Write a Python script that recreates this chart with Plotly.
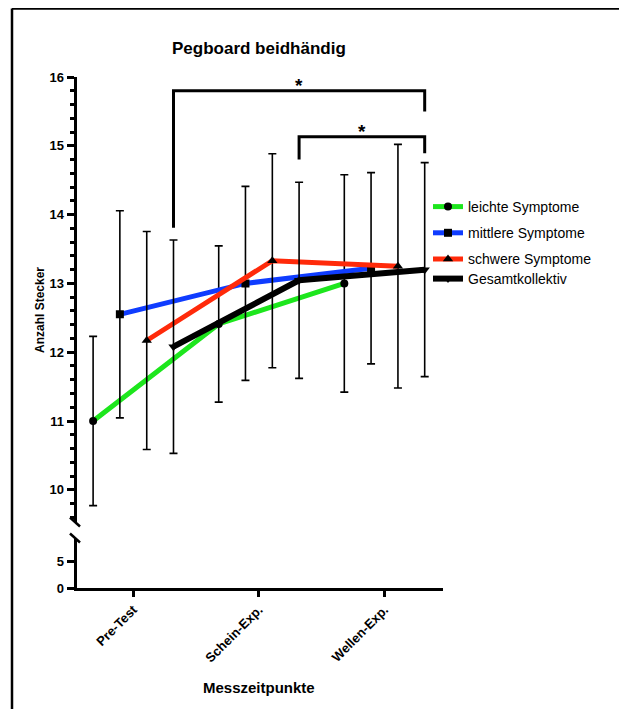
import plotly.graph_objects as go

# ---------------- data ----------------
categories = ["Pre-Test", "Schein-Exp.", "Wellen-Exp."]
series_names = ["leichte Symptome", "mittlere Symptome", "schwere Symptome", "Gesamtkollektiv"]

leicht_mean = [11.00, 12.41, 13.00]
leicht_sd = [1.23, 1.135, 1.58]
mittel_mean = [12.55, 13.00, 13.22]
mittel_sd = [1.505, 1.41, 1.39]
schwer_mean = [12.17, 13.33, 13.25]
schwer_sd = [1.585, 1.555, 1.77]
gesamt_mean = [12.08, 13.045, 13.20]
gesamt_sd = [1.55, 1.425, 1.555]

upper_ticks = [10, 11, 12, 13, 14, 15, 16]
lower_ticks = [0, 5]

# significance brackets: (from category, to category, bar height, left leg end, right leg end)
sig_from = [0, 1]
sig_to = [2, 2]
sig_bar = [15.80, 15.13]
sig_left_end = [13.81, 14.80]
sig_right_end = [15.50, 14.89]
sig_label = ["*", "*"]

# ---------------- layout helpers ----------------
PAGE_W, PAGE_H = 627, 717
OFF = 8  # default body margin of the html page
W, H = PAGE_W - OFF, PAGE_H - 2 * OFF
def px(x):
    return (x - OFF) / W
def py(y):
    return 1 - (y - OFF) / H

FONT = "Liberation Sans, Arial, Helvetica, sans-serif"
colors = ["#1de61d", "#0f3cff", "#ff2a0a", "#000000"]
symbols = ["circle", "square", "triangle-up", "triangle-down"]
msizes = [8, 8, 9, 9]
lwidths = [5, 5, 5, 6]
dodge = [-0.32, -0.107, 0.107, 0.32]
means = [leicht_mean, mittel_mean, schwer_mean, gesamt_mean]
sds = [leicht_sd, mittel_sd, schwer_sd, gesamt_sd]
legends = ["legend", "legend", "legend", "legend2"]

fig = go.Figure()
for i, name in enumerate(series_names):
    xs = [c + dodge[i] for c in range(len(categories))]
    fig.add_trace(go.Scatter(
        x=xs, y=means[i], name=name, mode="lines+markers",
        line=dict(color=colors[i], width=lwidths[i]),
        marker=dict(symbol=symbols[i], size=msizes[i], color="black"),
        error_y=dict(type="data", array=sds[i], visible=True, color="black",
                     thickness=1.6, width=4),
        xaxis="x", yaxis="y", legend=legends[i], legendgroup=name,
    ))

# dummy trace for the lower (broken) axis segment
fig.add_trace(go.Scatter(x=[None], y=[None], xaxis="x", yaxis="y2",
                         showlegend=False, hoverinfo="skip"))

# significance brackets
def catx(c):
    return c + dodge[3]
shapes = []
annotations = []
for k in range(len(sig_bar)):
    x0, x1 = catx(sig_from[k]), catx(sig_to[k])
    shapes.append(dict(type="path", xref="x", yref="y",
                       path=f"M {x0},{sig_left_end[k]} L {x0},{sig_bar[k]} L {x1},{sig_bar[k]} L {x1},{sig_right_end[k]}",
                       line=dict(color="black", width=3)))
    annotations.append(dict(x=(x0 + x1) / 2, y=sig_bar[k], xref="x", yref="y",
                            text=f"<b>{sig_label[k]}</b>", showarrow=False,
                            yanchor="bottom", yshift=-7,
                            font=dict(family=FONT, size=19, color="black")))

# page frame (left and top)
shapes.append(dict(type="line", xref="paper", yref="paper", x0=px(12), x1=px(12),
                   y0=py(8.5), y1=-0.05, line=dict(color="black", width=2.5)))
shapes.append(dict(type="line", xref="paper", yref="paper", x0=px(12), x1=1.05,
                   y0=py(8.5), y1=py(8.5), line=dict(color="black", width=2.5)))
# axis break marks
for yb in (522, 538):
    shapes.append(dict(type="line", xref="paper", yref="paper",
                       x0=px(70), x1=px(80), y0=py(yb - 4.5), y1=py(yb + 4.5),
                       line=dict(color="black", width=2.5)))

# titles
annotations.append(dict(x=px(259), y=py(48), xref="paper", yref="paper",
                        text="<b>Pegboard beidhändig</b>", showarrow=False,
                        xanchor="center", yanchor="middle",
                        font=dict(family=FONT, size=17, color="black")))
annotations.append(dict(x=px(40), y=py(310), xref="paper", yref="paper",
                        text="<b>Anzahl Stecker</b>", showarrow=False, textangle=-90,
                        xanchor="center", yanchor="middle",
                        font=dict(family=FONT, size=12, color="black")))
annotations.append(dict(x=px(258.5), y=py(687), xref="paper", yref="paper",
                        text="<b>Messzeitpunkte</b>", showarrow=False,
                        xanchor="center", yanchor="middle",
                        font=dict(family=FONT, size=15, color="black")))

# axis geometry (reference pixel positions)
xl, xr = 76.5, 442.7
c0, cstep = 133.3, 125.6
x_range = [-(c0 - xl) / cstep, (len(categories) - 1) + (xr - (c0 + 2 * cstep)) / cstep]
up_top, up_bot, up_scale = 77, 522, 68.8
y_range = [16 - (up_bot - up_top) / up_scale, 16]
lo_top, lo_bot, lo_scale = 538, 588, 5.4
y2_range = [0, (lo_bot - lo_top) / lo_scale]

tickfont = dict(family=FONT, size=13, color="black", weight="bold")

fig.update_layout(
    width=W, height=H,
    margin=dict(l=0, r=0, t=0, b=0, autoexpand=False),
    paper_bgcolor="white", plot_bgcolor="white",
    font=dict(family=FONT, color="black"),
    xaxis=dict(domain=[px(xl), px(xr)], range=x_range, anchor="y2", automargin=False,
               tickvals=list(range(len(categories))), ticktext=categories,
               tickangle=-45, ticks="outside", ticklen=6, tickwidth=2.5, tickcolor="black",
               showline=True, linewidth=3, linecolor="black", showgrid=False,
               zeroline=False, tickfont=tickfont),
    yaxis=dict(domain=[py(up_bot), py(up_top)], range=y_range, anchor="x", automargin=False,
               tickvals=upper_ticks, ticks="outside", ticklen=7, tickwidth=2.5,
               tickcolor="black", showline=True, linewidth=3, linecolor="black",
               showgrid=False, zeroline=False, tickfont=tickfont,
               minor=dict(dtick=0.2, tick0=0, ticks="outside", ticklen=4,
                          tickwidth=2.5, tickcolor="black", showgrid=False)),
    yaxis2=dict(domain=[py(lo_bot), py(lo_top)], range=y2_range, anchor="x", automargin=False,
                tickvals=lower_ticks, ticks="outside", ticklen=7, tickwidth=2.5,
                tickcolor="black", showline=True, linewidth=3, linecolor="black",
                showgrid=False, zeroline=False, tickfont=tickfont),
    legend=dict(x=px(428), y=py(191), xanchor="left", yanchor="top",
                font=dict(family=FONT, size=14, color="black"),
                bgcolor="rgba(0,0,0,0)", tracegroupgap=5, itemwidth=30),
    legend2=dict(x=px(428), y=py(263), xanchor="left", yanchor="top",
                 font=dict(family=FONT, size=14, color="black"),
                 bgcolor="rgba(0,0,0,0)", itemwidth=30),
    shapes=shapes,
    annotations=annotations,
    showlegend=True,
)

fig.write_html("out.html")
